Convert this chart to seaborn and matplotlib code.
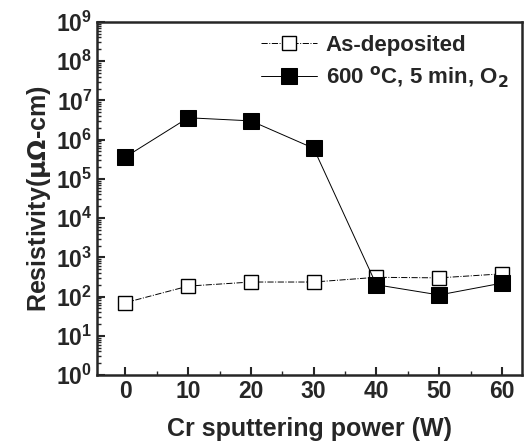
import matplotlib
matplotlib.use("Agg")
import matplotlib.pyplot as plt
import matplotlib.ticker as mticker
import numpy as np
import pandas as pd
import seaborn as sns

power = [0, 10, 20, 30, 40, 50, 60]
as_deposited = [70, 185, 235, 235, 310, 300, 380]
annealed = [3.6e5, 3.6e6, 3.0e6, 6.0e5, 200, 110, 220]

df = pd.DataFrame({
    "power": power * 2,
    "rho": as_deposited + annealed,
    "sample": ["As-deposited"] * 7 + ["600 $^{\\rm o}$C, 5 min, O$_{\\bf 2}$"] * 7,
})

sns.set_style("ticks")
plt.rcParams['font.family'] = ['Liberation Sans', 'DejaVu Sans']
plt.rcParams['font.weight'] = 'bold'
plt.rcParams['mathtext.default'] = 'bf'

fig = plt.figure(figsize=(5.31, 4.46), dpi=100)
ax = fig.add_axes([0.183, 0.159, 0.8, 0.792])

labels = df["sample"].unique()
sub = df[df["sample"] == labels[0]]
sns.lineplot(data=sub, x="power", y="rho", ax=ax, color="black", lw=0.7,
             linestyle="-.", marker="s", markersize=10, markerfacecolor="white",
             markeredgecolor="black", markeredgewidth=1.0, label=labels[0])
sub = df[df["sample"] == labels[1]]
sns.lineplot(data=sub, x="power", y="rho", ax=ax, color="black", lw=0.7,
             linestyle="-", marker="s", markersize=11, markerfacecolor="black",
             markeredgecolor="black", label=labels[1])

ax.set_yscale("log")
ax.set_ylim(1, 1e9)
ax.set_xlim(-4.5, 63.2)
ax.set_xticks([0, 10, 20, 30, 40, 50, 60])
ax.xaxis.set_minor_locator(mticker.MultipleLocator(5))
ax.yaxis.set_major_locator(mticker.LogLocator(base=10, numticks=12))
ax.yaxis.set_minor_locator(mticker.LogLocator(base=10, subs=np.arange(2, 10), numticks=12))
ax.yaxis.set_minor_formatter(mticker.NullFormatter())

ax.tick_params(which="both", direction="in", labelsize=16.5, width=1.5)
ax.tick_params(which="major", length=6)
ax.tick_params(which="minor", length=3, width=1)
for s in ax.spines.values():
    s.set_linewidth(1.8)

ax.set_xlabel("Cr sputtering power (W)", fontsize=18, fontweight="bold", labelpad=10)
ax.set_ylabel("Resistivity($\\mu\\Omega$-cm)", fontsize=18, fontweight="bold", labelpad=2)

leg = ax.legend(loc="upper right", frameon=False, fontsize=16, handlelength=2.5,
                borderaxespad=0.2, labelspacing=0.4, handletextpad=0.4)

fig.savefig("out.png", dpi=100)
